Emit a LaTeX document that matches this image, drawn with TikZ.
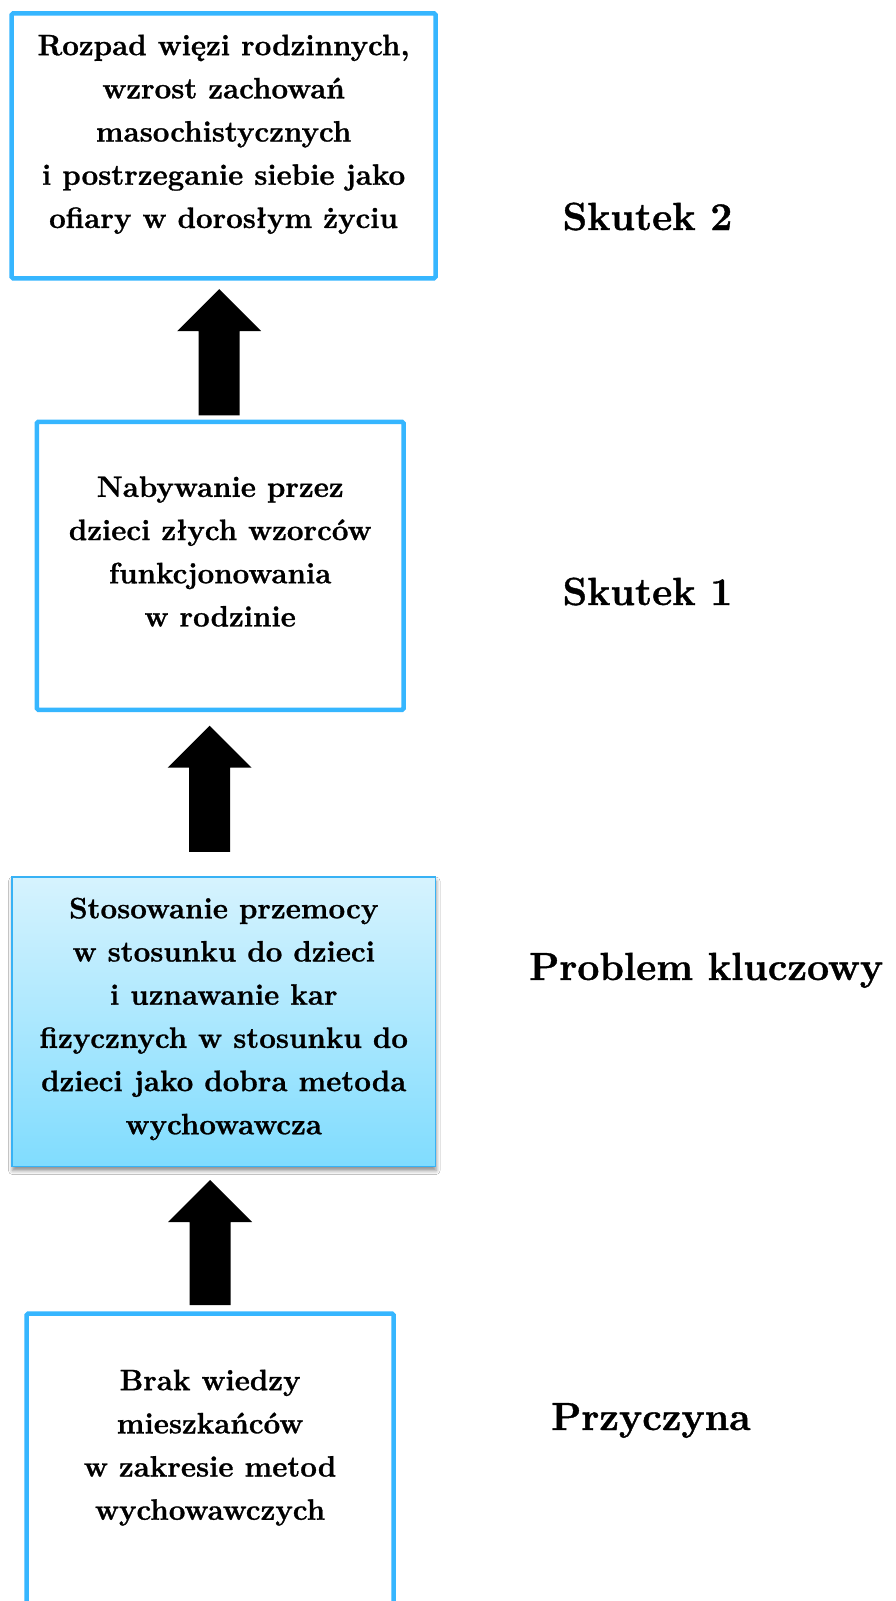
\documentclass[tikz,border=0pt]{standalone}
\usepackage{fontspec}
\setmainfont{Latin Modern Roman}[BoldFeatures={FakeBold=1}]
\usepackage{tikz}
\usetikzlibrary{arrows.meta,positioning,calc,shadows.blur}
\definecolor{colorFrame}{RGB}{54,182,255}
\definecolor{colorKeyTop}{RGB}{214,243,254}
\definecolor{colorKeyBottom}{RGB}{128,220,254}
\definecolor{colorKeyFrame}{RGB}{56,178,245}

\begin{document}
\begin{tikzpicture}[x=1pt,y=-1pt,
  boxframe/.style={draw=colorFrame,line width=4.5pt,rounded corners=1.5pt,inner sep=0pt},
  boxtext/.style={align=center,anchor=north,inner sep=0pt,font=\fontsize{29.5}{43.2}\selectfont\bfseries},
  sidelabel/.style={anchor=base west,inner sep=0pt,font=\fontsize{39.2}{46}\selectfont\bfseries},
  bigarrow/.style={fill=black,to path={let \p1=(\tikztostart),\p2=(\tikztotarget) in
    (\x1-20.5pt,\y1) -- (\x1-20.5pt,\y2-42pt) -- (\x1-42pt,\y2-42pt) -- (\x1,\y2)
    -- (\x1+42pt,\y2-42pt) -- (\x1+20.5pt,\y2-42pt) -- (\x1+20.5pt,\y1) -- cycle}}]
  \fill[white] (0,0) rectangle (896,1601);
  \useasboundingbox (0,0) rectangle (896,1601);
  \clip (0,0) rectangle (896,1601);

  \node[boxframe,minimum width=423.8pt,minimum height=265pt] (b1) at (223.6,145.8) {};
  \node[boxframe,minimum width=366.7pt,minimum height=288pt] (b2) at (220.2,565.8) {};
  \node[draw=colorKeyFrame,line width=1.8pt,top color=colorKeyTop,bottom color=colorKeyBottom,inner sep=0pt,minimum width=423.5pt,minimum height=289.5pt,blur shadow={shadow xshift=0.5pt,shadow yshift=-4pt,shadow blur radius=4pt,shadow opacity=45}] (b3) at (223.8,1021.8) {};
  \node[boxframe,minimum width=366.8pt,minimum height=330pt] (b4) at (210.1,1478.5) {};

  \node[boxtext] (t1) at (223.6,34.5) {Rozpad więzi rodzinnych,\\wzrost zachowań\\masochistycznych\\i postrzeganie siebie jako\\ofiary w dorosłym życiu};
  \node[boxtext] (t2) at (220.2,476.2) {Nabywanie przez\\dzieci złych wzorców\\funkcjonowania\\w rodzinie};
  \node[boxtext] (t3) at (223.8,897.5) {Stosowanie przemocy\\w stosunku do dzieci\\i uznawanie kar\\fizycznych w stosunku do\\dzieci jako dobra metoda\\wychowawcza};
  \node[boxtext] (t4) at (210.1,1369.5) {Brak wiedzy\\mieszkańców\\w zakresie metod\\wychowawczych};

  \node[sidelabel] (s2) at (562.5,230) {Skutek 2};
  \node[sidelabel] (s1) at (562.5,605) {Skutek 1};
  \node[sidelabel] (sk) at (529,980) {Problem kluczowy};
  \node[sidelabel] (sp) at (551,1430) {Przyczyna};

  \path[bigarrow] ($(b2.north)+(-1,-4.3)$) to ($(b2.north |- b1.south)+(-1,8.6)$);
  \path[bigarrow] ($(b3.north)+(-14.2,-24.4)$) to ($(b3.north |- b2.south)+(-14.2,13.6)$);
  \path[bigarrow] ($(b4.north)+(0,-6.2)$) to ($(b4.north |- b3.south)+(0,12.6)$);
\end{tikzpicture}
\end{document}
